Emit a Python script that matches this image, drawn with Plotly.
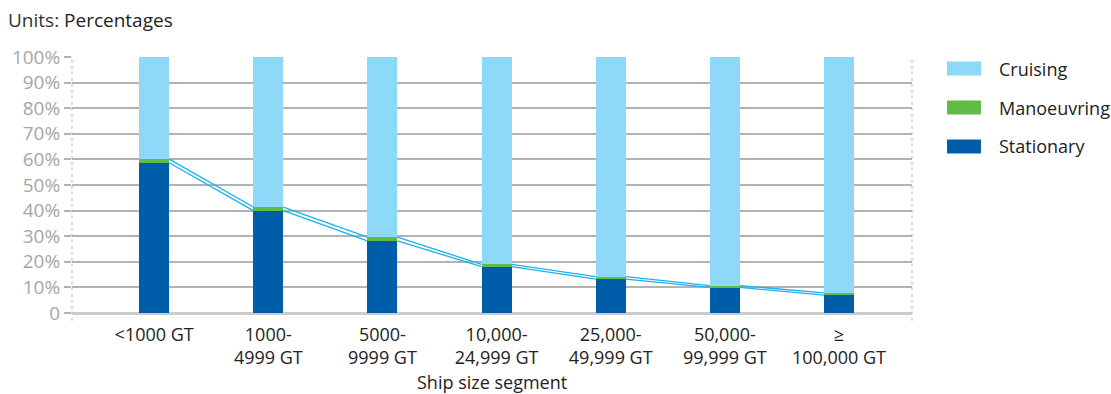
import plotly.graph_objects as go

# Share of time per operating mode, by ship size segment (%)
segments = ["<1000 GT", "1000-<br>4999 GT", "5000-<br>9999 GT", "10,000-<br>24,999 GT",
            "25,000-<br>49,999 GT", "50,000-<br>99,999 GT", "≥<br>100,000 GT"]
stationary = [58.7, 40.0, 28.2, 18.1, 13.2, 10.0, 7.0]
manoeuvring = [1.4, 1.4, 1.4, 0.9, 1.0, 0.7, 0.9]
cruising = [round(100 - s - m, 1) for s, m in zip(stationary, manoeuvring)]

C_CRUISE = "#8ED8F8"
C_MANOEUV = "#62BB46"
C_STAT = "#005DAA"
C_LINE = "#1CB1EC"
GRID = "#b3b3b3"
FONT = "Open Sans"
FS = 18

BAR_W = 0.263
xs = list(range(len(segments)))

fig = go.Figure()
for name, vals, col in [("Stationary", stationary, C_STAT),
                        ("Manoeuvring", manoeuvring, C_MANOEUV),
                        ("Cruising", cruising, C_CRUISE)]:
    fig.add_trace(go.Bar(x=xs, y=vals, name=name, marker=dict(color=col, line=dict(width=0)),
                         width=BAR_W, showlegend=False, hoverinfo="skip"))

# Series lines joining the tops of the stacked segments between neighbouring bars
tops_stat = stationary
tops_man = [s + m for s, m in zip(stationary, manoeuvring)]
for tops in (tops_man, tops_stat):
    lx, ly = [], []
    for i in range(len(xs) - 1):
        lx += [xs[i] + BAR_W / 2, xs[i + 1] - BAR_W / 2, None]
        ly += [tops[i], tops[i + 1], None]
    fig.add_trace(go.Scatter(x=lx, y=ly, mode="lines", line=dict(color=C_LINE, width=1.3),
                             showlegend=False, hoverinfo="skip"))

# Left and right dotted frame lines
shapes = []
for xp in (0, 1):
    shapes.append(dict(type="line", xref="paper", yref="paper", x0=xp, x1=xp, y0=-0.03, y1=1.0,
                       line=dict(color="#b5b5b5", width=1, dash="dot"), layer="below"))

# Legend swatches and labels
legend_items = [("Cruising", C_CRUISE), ("Manoeuvring", C_MANOEUV), ("Stationary", C_STAT)]
annotations = []
for k, (lab, col) in enumerate(legend_items):
    yc = 0.955 - k * 0.1523
    shapes.append(dict(type="rect", xref="paper", yref="paper", x0=1.0417, x1=1.0821,
                       y0=yc - 0.0273, y1=yc + 0.0273, fillcolor=col, line=dict(width=0)))
    annotations.append(dict(text=lab, xref="paper", yref="paper", x=1.1012, y=yc,
                            xanchor="left", yanchor="middle", showarrow=False,
                            font=dict(family=FONT, size=18, color="#222222")))

# x-axis title
annotations.append(dict(text="Ship size segment", xref="paper", yref="paper", x=0.5, y=-0.268,
                        xanchor="center", yanchor="middle", showarrow=False,
                        font=dict(family=FONT, size=18, color="#222222")))

fig.update_layout(
    width=1111, height=394,
    margin=dict(l=72, r=199, t=57, b=81),
    paper_bgcolor="white", plot_bgcolor="white",
    barmode="stack",
    font=dict(family=FONT, size=FS, color="#222222"),
    title=dict(text="<span style='color:#333333'>Units:</span> Percentages", x=8 / 1111, xanchor="left",
               y=1 - 20 / 394, yanchor="middle", font=dict(family=FONT, size=19, color="#222222")),
    shapes=shapes, annotations=annotations,
    xaxis=dict(range=[-0.72, 6.64], tickmode="array", tickvals=xs, ticktext=segments,
               showgrid=False, zeroline=False, showline=False, ticks="",
               ticklabelstandoff=9, automargin=False,
               tickfont=dict(family=FONT, size=FS, color="#222222")),
    yaxis=dict(range=[0, 100], tickmode="array", tickvals=list(range(0, 101, 10)),
               ticktext=["0"] + [f"{v}%" for v in range(10, 101, 10)],
               showgrid=True, gridcolor=GRID, gridwidth=1.5, automargin=False,
               zeroline=True, zerolinecolor="#cccccc", zerolinewidth=2.5,
               showline=False, ticks="outside", ticklen=7, tickcolor=GRID, tickwidth=1.5,
               tickfont=dict(family=FONT, size=19, color="#a6a6a6")),
)

fig.write_html("out.html")
